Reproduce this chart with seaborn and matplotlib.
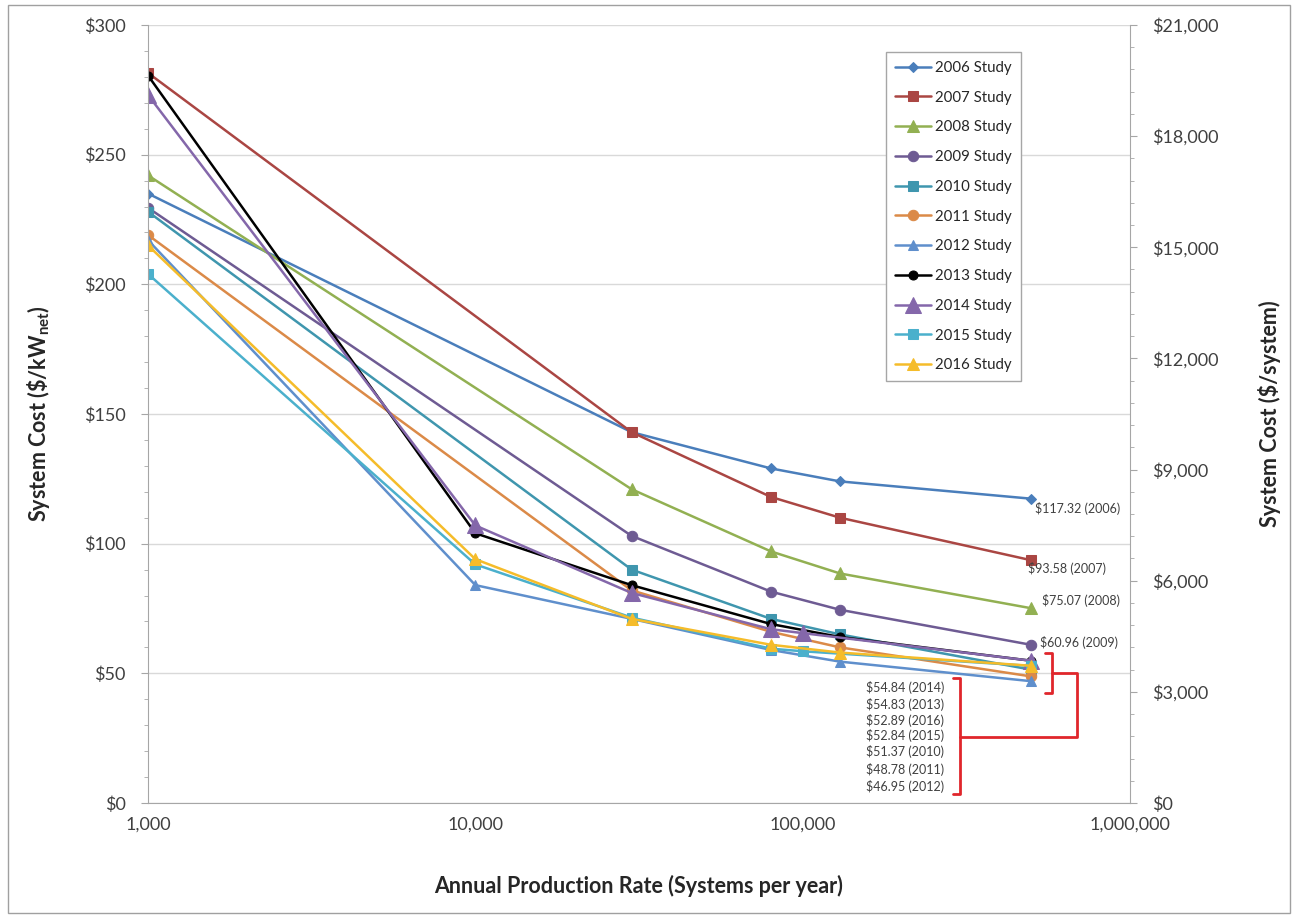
import numpy as np
import pandas as pd
import seaborn as sns
import matplotlib.pyplot as plt
from matplotlib.ticker import MultipleLocator, FuncFormatter, LogLocator, NullFormatter
from matplotlib.patches import Rectangle

# values ($/kWnet vs systems per year)
studies = ['2006 Study', '2007 Study', '2008 Study', '2009 Study', '2010 Study', '2011 Study',
           '2012 Study', '2013 Study', '2014 Study', '2015 Study', '2016 Study']

rates_2006 = [1000, 30000, 80000, 130000, 500000]
cost_2006 = [235, 143, 129, 124, 117.32]
rates_2007 = [1000, 30000, 80000, 130000, 500000]
cost_2007 = [281.5, 143, 118, 110, 93.58]
rates_2008 = [1000, 30000, 80000, 130000, 500000]
cost_2008 = [242, 121, 97, 88.5, 75.07]
rates_2009 = [1000, 30000, 80000, 130000, 500000]
cost_2009 = [229.5, 103, 81.5, 74.5, 60.96]
rates_2010 = [1000, 30000, 80000, 130000, 500000]
cost_2010 = [228, 90, 71, 65, 51.37]
rates_2011 = [1000, 30000, 80000, 130000, 500000]
cost_2011 = [219, 82, 66, 60, 48.78]
rates_2012 = [1000, 10000, 30000, 80000, 130000, 500000]
cost_2012 = [217, 84, 71, 59, 54.5, 46.95]
rates_2013 = [1000, 10000, 30000, 80000, 130000, 500000]
cost_2013 = [280.5, 104, 84, 69, 64, 54.83]
rates_2014 = [1000, 10000, 30000, 80000, 100000, 500000]
cost_2014 = [273, 107, 81, 67, 65.5, 54.84]
rates_2015 = [1000, 10000, 30000, 80000, 100000, 500000]
cost_2015 = [204, 92, 71.5, 59.5, 58.5, 52.84]
rates_2016 = [1000, 10000, 30000, 80000, 130000, 500000]
cost_2016 = [215, 94, 71, 61, 58, 52.89]

rate_lists = [rates_2006, rates_2007, rates_2008, rates_2009, rates_2010, rates_2011,
              rates_2012, rates_2013, rates_2014, rates_2015, rates_2016]
cost_lists = [cost_2006, cost_2007, cost_2008, cost_2009, cost_2010, cost_2011,
              cost_2012, cost_2013, cost_2014, cost_2015, cost_2016]

# end labels
top_labels = ['$117.32 (2006)', '$93.58 (2007)', '$75.07 (2008)', '$60.96 (2009)']
list_labels = ['$54.84 (2014)', '$54.83 (2013)', '$52.89 (2016)', '$52.84 (2015)',
               '$51.37 (2010)', '$48.78 (2011)', '$46.95 (2012)']

rows = []
for name, xs, ys in zip(studies, rate_lists, cost_lists):
    for x, y in zip(xs, ys):
        rows.append({'study': name, 'rate': x, 'cost': y})
df = pd.DataFrame(rows)

colors = ['#4A7EBB', '#AA4643', '#92B052', '#6E5B93', '#3F96AE', '#DB8A48',
          '#5F8FCC', '#000000', '#8467AA', '#4BB0CC', '#F5BC2A']
markers = ['D', 's', '^', 'o', 's', 'o', '^', 'o', '^', 's', '^']
msizes = [5.5, 7.5, 8, 7.5, 7.5, 7.5, 7.5, 6.5, 11, 7.5, 8]

sns.set_style('white')
plt.rcParams['font.family'] = ['Lato', 'DejaVu Sans']
plt.rcParams['mathtext.fontset'] = 'custom'
plt.rcParams['mathtext.rm'] = 'Lato'
plt.rcParams['mathtext.bf'] = 'Lato:bold'

fig = plt.figure(figsize=(12.95, 9.18), dpi=100)
ax = fig.add_axes([0.1143, 0.1253, 0.7583, 0.8475])

for name, c, m, ms in zip(studies, colors, markers, msizes):
    sub = df[df['study'] == name]
    sns.lineplot(data=sub, x='rate', y='cost', ax=ax, color=c, marker=m, markersize=ms,
                 markeredgecolor=c, linewidth=1.8, label=name, errorbar=None)

ax.set_xscale('log')
ax.set_xlim(1000, 1e6)
ax.set_ylim(0, 300)
ax.yaxis.set_major_locator(MultipleLocator(50))
ax.yaxis.set_minor_locator(MultipleLocator(10))
ax.yaxis.set_major_formatter(FuncFormatter(lambda v, p: f'${v:,.0f}'))
ax.xaxis.set_major_locator(LogLocator(base=10))
ax.xaxis.set_major_formatter(FuncFormatter(lambda v, p: f'{v:,.0f}'))
ax.xaxis.set_minor_locator(LogLocator(base=10, subs=range(2, 10)))
ax.xaxis.set_minor_formatter(NullFormatter())
ax.grid(axis='y', which='major', color='#D9D9D9', lw=1)
ax.set_axisbelow(True)

axis_gray = '#A6A6A6'
for s in ['left', 'bottom']:
    ax.spines[s].set_color(axis_gray)
ax.spines['top'].set_visible(False)
ax.spines['right'].set_visible(False)
ax.tick_params(axis='both', which='major', length=5, color=axis_gray, labelsize=13,
               labelcolor='#404040', direction='out')
ax.tick_params(axis='both', which='minor', length=3, color=axis_gray, direction='out')
ax.tick_params(axis='y', which='major', pad=11)
ax.tick_params(axis='x', which='major', pad=5)

ax.set_xlabel('Annual Production Rate (Systems per year)', fontsize=15.5, fontweight='bold')
ax.set_ylabel(r'System Cost (\$/kW$_{\mathbf{net}}$)', fontsize=15.5, fontweight='bold')
ax.xaxis.set_label_coords(0.5, -0.093)
ax.yaxis.set_label_coords(-0.098, 0.5)

ax2 = ax.twinx()
ax2.set_ylim(0, 21000)
ax2.yaxis.set_major_locator(MultipleLocator(3000))
ax2.yaxis.set_minor_locator(MultipleLocator(600))
ax2.yaxis.set_major_formatter(FuncFormatter(lambda v, p: f'${v:,.0f}'))
for s in ['left', 'top', 'bottom']:
    ax2.spines[s].set_visible(False)
ax2.spines['right'].set_color(axis_gray)
ax2.tick_params(axis='y', which='major', length=5, color=axis_gray, labelsize=13,
                labelcolor='#404040', pad=11)
ax2.tick_params(axis='y', which='minor', length=3, color=axis_gray)
ax2.set_ylabel('System Cost ($/system)', fontsize=15.5, fontweight='bold', rotation=90)
ax2.yaxis.set_label_coords(1.13, 0.5)

leg = ax.legend(loc='upper left', bbox_to_anchor=(0.7435, 0.975), fontsize=10.8,
                frameon=True, fancybox=False, framealpha=1, edgecolor='#A6A6A6',
                labelspacing=1.05, handlelength=2.4, handletextpad=0.3, borderpad=0.6)
leg.set_zorder(10)

# end-point labels for 2006-2009
offsets = [(4, -10), (-3, -8), (11, 8), (9, 2)]
for lab, xs, ys, off in zip(top_labels, rate_lists[:4], cost_lists[:4], offsets):
    ax.annotate(lab, xy=(xs[-1], ys[-1]), xytext=off, textcoords='offset pixels',
                ha='left', va='center', fontsize=9, color='#404040')

# grouped labels with brackets
def px(x, y):
    return ((x - 148) / 982, (803 - y) / 778)

list_y = [688, 705, 721, 736, 752, 770, 787]
for lab, yy in zip(list_labels, list_y):
    ax.text(*px(866, yy), lab, transform=ax.transAxes, ha='left', va='center',
            fontsize=9, color='#404040')

red = '#E0262B'
bracket1 = [px(953, 678), px(960, 678), px(960, 794), px(953, 794)]
bracket2 = [px(1045, 653), px(1052, 653), px(1052, 693), px(1045, 693)]
connector = [px(960, 737), px(1077, 737), px(1077, 673), px(1052, 673)]
for pts in [bracket1, bracket2, connector]:
    xs, ys = zip(*pts)
    ax.plot(xs, ys, color=red, lw=2, transform=ax.transAxes, clip_on=False, zorder=5)

fig.patches.append(Rectangle((0.006, 0.005), 0.99, 0.99, transform=fig.transFigure,
                             fill=False, edgecolor='#A0A0A0', lw=1))

fig.savefig('out.png', dpi=100)
